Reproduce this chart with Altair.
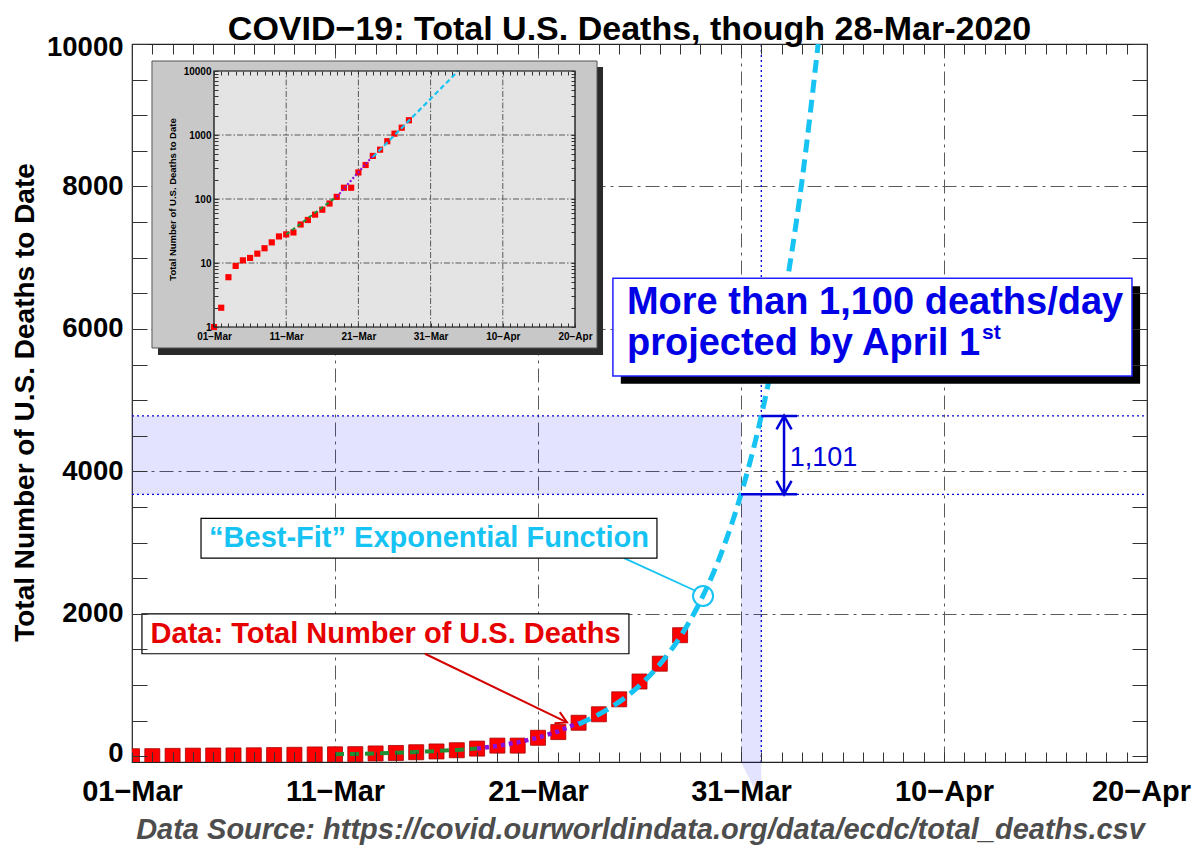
import json
import altair as alt
import pandas as pd

FONT = "Liberation Sans"

# ---------------- data ----------------
dates = ["01-Mar", "02-Mar", "03-Mar", "04-Mar", "05-Mar", "06-Mar", "07-Mar",
         "08-Mar", "09-Mar", "10-Mar", "11-Mar", "12-Mar", "13-Mar", "14-Mar",
         "15-Mar", "16-Mar", "17-Mar", "18-Mar", "19-Mar", "20-Mar", "21-Mar",
         "22-Mar", "23-Mar", "24-Mar", "25-Mar", "26-Mar", "27-Mar", "28-Mar"]
deaths = [1, 2, 6, 9, 11, 12, 14, 17, 21, 26, 28, 30, 40, 47,
          57, 68, 85, 108, 150, 150, 260, 340, 471, 590, 800, 1050, 1300, 1700]

# fitted curves (x = days since 01-Mar)
green_days = [10, 11, 12, 13, 14, 15, 16, 17]
green_vals = [28, 34, 41, 50, 61, 74, 90, 108]
purple_days = [17, 18, 19, 20, 21, 22]
purple_vals = [108, 145, 195, 262, 351, 471]
cyan_days = [22, 23, 24, 25, 26, 27, 28, 29, 30, 31, 32, 33, 33.8]
cyan_vals = [452, 588, 764, 992, 1290, 1676, 2178, 2830, 3678, 4779, 6210, 8069, 10000]

proj_days = [30, 31]          # 31-Mar, 01-Apr
proj_vals = [3678, 4779]      # projected totals on the fit
proj_label = "1,101"

tick_days = [0, 10, 20, 30, 40, 50]
tick_labels = ["01−Mar", "11−Mar", "21−Mar", "31−Mar", "10−Apr", "20−Apr"]
y_ticks = [0, 2000, 4000, 6000, 8000, 10000]
y_grid = [2000, 4000, 6000, 8000]
x_grid = [10, 20, 30, 40]
minor_days = list(range(0, 51))
y_minor = list(range(0, 10001, 500))
inset_y_ticks = [1, 10, 100, 1000, 10000]
inset_y_grid = [10, 100, 1000]
inset_minor = [m * 10 ** e for e in range(4) for m in range(1, 10)] + [10000]

title_text = "COVID−19: Total U.S. Deaths, though 28-Mar-2020"
y_title = "Total Number of U.S. Deaths to Date"
source_text = "Data Source: https://covid.ourworldindata.org/data/ecdc/total_deaths.csv"
box_line1 = "More than 1,100 deaths/day"
box_line2 = "projected by April 1"
box_sup = "st"
fit_label = "“Best-Fit” Exponential Function"
data_label = "Data: Total Number of U.S. Deaths"

# ---------------- styling ----------------
RED = "#ff0000"
CYAN = "#16c3f2"
GREEN = "#1f8f35"
PURPLE = "#8a0fdc"
BLUE = "#0000d8"
GRID = "#5a5a5a"
W, H = 1015, 718

days = list(range(len(dates)))
lab_expr = (f"{json.dumps(tick_labels, ensure_ascii=False)}"
            f"[indexof({json.dumps(tick_days)}, datum.value)]")


def df(**cols):
    return pd.DataFrame(cols)


def tick_axis(orient, values, size, offset, **kw):
    return alt.Axis(orient=orient, values=values, offset=offset, tickSize=size,
                    tickColor="#333", tickWidth=1, ticks=True, labels=False,
                    domain=False, grid=False, zindex=1, **kw)


# ---------------- main chart ----------------
XS = alt.Scale(domain=[0, 50], nice=False, zero=False)
YS = alt.Scale(domain=[-80, 10000], nice=False, zero=False)


def xm(f="x", axis=None):
    return alt.X(f"{f}:Q", scale=XS, axis=axis)


def ym(f="y", axis=None):
    return alt.Y(f"{f}:Q", scale=YS, axis=axis)


ax_x_labels = alt.Axis(
    orient="bottom", values=tick_days, labelExpr=lab_expr, labelFont=FONT,
    labelFontSize=29, labelFontWeight="bold", labelColor="#000", labelPadding=15,
    labelOffset={"condition": {"test": "datum.value == 50", "value": -6}, "value": 0},
    labelFlush=False, labelOverlap=False, labelBound=False, ticks=False, tickSize=0,
    domain=False, grid=False, zindex=1,
    title=source_text, titleFont=FONT, titleFontSize=29, titleFontWeight="bold",
    titleFontStyle="italic", titleColor="#4d4d4d", titleX=508, titleY=76,
    titleAlign="center", titleBaseline="alphabetic")
ax_y_labels = alt.Axis(
    orient="left", values=y_ticks, format="d", labelFont=FONT, labelFontSize=27.5,
    labelFontWeight="bold", labelColor="#000", labelPadding=9, labelFlush=False,
    labelOffset={"condition": [{"test": "datum.value == 10000", "value": 3},
                               {"test": "datum.value == 0", "value": -3}], "value": 0},
    labelOverlap=False, ticks=False, tickSize=0, domain=False, grid=False, zindex=1,
    title=y_title, titleFont=FONT, titleFontSize=28, titleFontWeight="bold",
    titleColor="#000", titleAngle=270, titleX=-99, titleY=358,
    titleAlign="center", titleBaseline="alphabetic")
ax_x_grid = alt.Axis(orient="bottom", values=x_grid, grid=True, gridColor=GRID,
                     gridDash=[14, 5, 3, 5], gridWidth=1, labels=False, ticks=False,
                     domain=False, title=None, zindex=0)
ax_y_grid = alt.Axis(orient="left", values=y_grid, grid=True, gridColor=GRID,
                     gridDash=[14, 5, 3, 5], gridWidth=1, labels=False, ticks=False,
                     domain=False, title=None, zindex=0)
# top tick axis also carries the chart's main title
ax_x_top = tick_axis("top", minor_days, 10, -10,
                     title=title_text, titleFont=FONT, titleFontSize=34,
                     titleFontWeight="bold", titleColor="#000", titleX=497,
                     titleY=-15, titleAlign="center", titleBaseline="alphabetic")

lo, hi = proj_vals

band_h = alt.Chart(df(x=[0], x2=[proj_days[0]], y=[lo], y2=[hi])).mark_rect(
    color="#0000ff", opacity=0.11).encode(
    x=xm("x", ax_x_grid), x2=alt.X2("x2"), y=ym("y", ax_y_grid), y2=alt.Y2("y2"))
band_v = alt.Chart(df(x=[proj_days[0]], x2=[proj_days[1]], y=[-80], y2=[lo])).mark_rect(
    color="#0000ff", opacity=0.11).encode(
    x=xm(), x2=alt.X2("x2"), y=ym(), y2=alt.Y2("y2"))
band_tip = alt.Chart(df(x=proj_days, y=[-80, -80], y2=[-80, -650])).mark_area(
    color="#0000ff", opacity=0.11).encode(x=xm(), y=ym(), y2=alt.Y2("y2"))

dot_h = alt.Chart(df(x=[0, 0], x2=[50, 50], y=proj_vals)).mark_rule(
    color=BLUE, strokeDash=[2, 3], strokeWidth=1.3).encode(
    x=xm("x", tick_axis("bottom", minor_days, 10, -10, title=None)), x2=alt.X2("x2"),
    y=ym("y", tick_axis("left", y_minor, 15, -15, title=None)))
dot_v = alt.Chart(df(x=[proj_days[1]], y=[-80], y2=[10000])).mark_rule(
    color=BLUE, strokeDash=[2, 3], strokeWidth=1.3).encode(
    x=xm("x", ax_x_top),
    y=ym("y", tick_axis("right", y_minor, 15, -15, title=None)), y2=alt.Y2("y2"))

squares = alt.Chart(df(x=days, y=deaths, date=dates)).mark_square(
    size=225, filled=True, fill=RED, stroke="#a80000", strokeWidth=0.8, opacity=1,
    clip=True).encode(x=xm("x", ax_x_labels), y=ym("y", ax_y_labels))

green = alt.Chart(df(x=green_days, y=green_vals)).mark_line(
    color=GREEN, strokeWidth=4, strokeDash=[9, 6]).encode(x=xm(), y=ym())
purple = alt.Chart(df(x=purple_days, y=purple_vals)).mark_line(
    color=PURPLE, strokeWidth=4.5, strokeDash=[4, 4]).encode(x=xm(), y=ym())
cyan = alt.Chart(df(x=cyan_days, y=cyan_vals)).mark_line(
    color=CYAN, strokeWidth=5, strokeDash=[13, 7], interpolate="monotone").encode(
    x=xm(), y=ym())

# 1,101 measure
arr_line = alt.Chart(df(x=[32.12], y=[lo], y2=[hi])).mark_rule(
    color=BLUE, strokeWidth=2.5).encode(x=xm(), y=ym(), y2=alt.Y2("y2"))
arr_bars = alt.Chart(df(x=[proj_days[1], proj_days[0]], x2=[32.76, 32.76], y=[hi, lo])).mark_rule(
    color=BLUE, strokeWidth=2.5).encode(x=xm(), x2=alt.X2("x2"), y=ym())
arr_up = alt.Chart(df(x=[32.12], y=[hi])).mark_point(
    shape="M-1,1.8L0,0L1,1.8", filled=False, size=225, color=BLUE, strokeWidth=2.5,
    opacity=1).encode(x=xm(), y=ym())
arr_dn = alt.Chart(df(x=[32.12], y=[lo])).mark_point(
    shape="M-1,-1.8L0,0L1,-1.8", filled=False, size=225, color=BLUE, strokeWidth=2.5,
    opacity=1).encode(x=xm(), y=ym())
arr_txt = alt.Chart(df(x=[32.4], y=[4194], t=[proj_label])).mark_text(
    font=FONT, fontSize=27, color=BLUE, align="left", baseline="middle").encode(
    x=xm(), y=ym(), text="t:N")

# "Data" annotation
data_box = alt.Chart(df(x=[0.49], x2=[24.48], y=[1440], y2=[1999])).mark_rect(
    fill="white", stroke="#000", strokeWidth=1.2).encode(
    x=xm(), x2=alt.X2("x2"), y=ym(), y2=alt.Y2("y2"))
data_txt = alt.Chart(df(x=[12.49], y=[1720], t=[data_label])).mark_text(
    font=FONT, fontSize=29, fontWeight="bold", color="#e60000", align="center",
    baseline="middle").encode(x=xm(), y=ym(), text="t:N")
data_arrow = alt.Chart(df(x=[14.43], x2=[21.43], y=[1440], y2=[475])).mark_rule(
    color="#d40000", strokeWidth=2).encode(x=xm(), x2=alt.X2("x2"), y=ym(), y2=alt.Y2("y2"))
data_head = alt.Chart(df(x=[21.43], y=[475])).mark_point(
    shape="M-1.8,-1L0,0L-1.8,1", angle=25.9, filled=False, size=150, color="#d40000",
    strokeWidth=2, opacity=1).encode(x=xm(), y=ym())

# "Best-Fit" annotation
fit_link = alt.Chart(df(x=[24.24], x2=[27.78], y=[2782], y2=[2321])).mark_rule(
    color=CYAN, strokeWidth=1.8).encode(x=xm(), x2=alt.X2("x2"), y=ym(), y2=alt.Y2("y2"))
fit_circle = alt.Chart(df(x=[28.13], y=[2251])).mark_point(
    shape="circle", filled=False, size=400, color=CYAN, strokeWidth=2, opacity=1).encode(
    x=xm(), y=ym())
fit_box = alt.Chart(df(x=[3.40], x2=[25.86], y=[2782], y2=[3341])).mark_rect(
    fill="white", stroke="#000", strokeWidth=1.2).encode(
    x=xm(), x2=alt.X2("x2"), y=ym(), y2=alt.Y2("y2"))
fit_txt = alt.Chart(df(x=[14.63], y=[3062], t=[fit_label])).mark_text(
    font=FONT, fontSize=29, fontWeight="bold", color=CYAN, align="center",
    baseline="middle").encode(x=xm(), y=ym(), text="t:N")

# projection box
proj_shadow = alt.Chart(df(x=[24.08], x2=[49.66], y=[5229], y2=[6599])).mark_rect(
    fill="#000").encode(x=xm(), x2=alt.X2("x2"), y=ym(), y2=alt.Y2("y2"))
proj_box = alt.Chart(df(x=[23.69], x2=[49.26], y=[5340], y2=[6711])).mark_rect(
    fill="white", stroke="#2020ff", strokeWidth=1.5).encode(
    x=xm(), x2=alt.X2("x2"), y=ym(), y2=alt.Y2("y2"))
proj_txt = alt.Chart(df(x=[24.38, 24.38], y=[6215, 5635], t=[box_line1, box_line2])).mark_text(
    font=FONT, fontSize=38, fontWeight="bold", color="#0000e6", align="left",
    baseline="alphabetic").encode(x=xm(), y=ym(), text="t:N")
proj_sup = alt.Chart(df(x=[41.87], y=[5858], t=[box_sup])).mark_text(
    font=FONT, fontSize=21, fontWeight="bold", color="#0000e6", align="left",
    baseline="alphabetic").encode(x=xm(), y=ym(), text="t:N")

main = alt.layer(
    band_h, band_v, band_tip, dot_h, dot_v, squares, green, purple, cyan,
    arr_line, arr_bars, arr_up, arr_dn, arr_txt,
    data_box, data_txt, data_arrow, data_head,
    fit_link, fit_circle, fit_box, fit_txt,
    proj_shadow, proj_box, proj_txt, proj_sup,
).resolve_axis(x="independent", y="independent")

# ---------------- inset (log scale) ----------------
XI = alt.Scale(domain=[0, 50], range=[82, 443], nice=False, zero=False)
YI = alt.Scale(type="log", domain=[1, 10000], range=[283, 27], nice=False)


def xi(f="x", axis=None):
    return alt.X(f"{f}:Q", scale=XI, axis=axis)


def yi(f="y", axis=None):
    return alt.Y(f"{f}:Q", scale=YI, axis=axis)


ax_xi_labels = alt.Axis(
    orient="bottom", offset=-435, values=tick_days, labelExpr=lab_expr, labelFont=FONT,
    labelFontSize=10, labelFontWeight="bold", labelColor="#000", labelPadding=4,
    labelFlush=False, labelOverlap=False, labelBound=False, ticks=False, tickSize=0,
    domain=False, grid=False, title=None, zindex=1)
ax_yi_labels = alt.Axis(
    orient="left", offset=-82, values=inset_y_ticks, format="d", labelFont=FONT,
    labelFontSize=10, labelFontWeight="bold", labelColor="#000", labelPadding=3,
    labelOverlap=False, ticks=False, tickSize=0, domain=False, grid=False, zindex=1,
    title=y_title, titleFont=FONT, titleFontSize=9.5, titleFontWeight="bold",
    titleColor="#000", titleAngle=270, titleX=-42, titleY=155, titleAlign="center",
    titleBaseline="middle")

in_shadow = alt.Chart(df(x=[-7.76], x2=[53.88], y=[0.365], y2=[11550])).mark_rect(
    fill="#2a2a2a").encode(x=xi(), x2=alt.X2("x2"), y=yi(), y2=alt.Y2("y2"))
in_frame = alt.Chart(df(x=[-8.59], x2=[53.05], y=[0.47], y2=[14330])).mark_rect(
    fill="#c8c8c8", stroke="#555", strokeWidth=1).encode(
    x=xi(), x2=alt.X2("x2"), y=yi(), y2=alt.Y2("y2"))
in_bg = alt.Chart(df(x=[0], x2=[50], y=[1], y2=[10000])).mark_rect(
    fill="#e4e4e4").encode(x=xi(), x2=alt.X2("x2"), y=yi(), y2=alt.Y2("y2"))
in_vgrid = alt.Chart(df(x=x_grid, y=[1] * len(x_grid), y2=[10000] * len(x_grid))).mark_rule(
    color=GRID, strokeDash=[6, 2, 1.5, 2], strokeWidth=1).encode(
    x=xi("x", tick_axis("bottom", minor_days, 4, -439, title=None)),
    y=yi("y", tick_axis("left", inset_minor, 4, -86, title=None)), y2=alt.Y2("y2"))
in_hgrid = alt.Chart(df(x=[0] * 3, x2=[50] * 3, y=inset_y_grid)).mark_rule(
    color=GRID, strokeDash=[6, 2, 1.5, 2], strokeWidth=1).encode(
    x=xi("x", tick_axis("top", minor_days, 4, -31, title=None)), x2=alt.X2("x2"),
    y=yi("y", tick_axis("right", inset_minor, 4, -576, title=None)))
in_squares = alt.Chart(df(x=days, y=deaths, date=dates)).mark_square(
    size=38, filled=True, fill=RED, opacity=1).encode(
    x=xi("x", ax_xi_labels), y=yi("y", ax_yi_labels))
in_green = alt.Chart(df(x=green_days, y=green_vals)).mark_line(
    color=GREEN, strokeWidth=2, strokeDash=[4, 3]).encode(x=xi(), y=yi())
in_purple = alt.Chart(df(x=purple_days, y=purple_vals)).mark_line(
    color=PURPLE, strokeWidth=2.2, strokeDash=[2, 2]).encode(x=xi(), y=yi())
in_cyan = alt.Chart(df(x=cyan_days, y=cyan_vals)).mark_line(
    color=CYAN, strokeWidth=2.2, strokeDash=[5, 3]).encode(x=xi(), y=yi())
in_border = alt.Chart(df(x=[0], x2=[50], y=[1], y2=[10000])).mark_rect(
    fillOpacity=0, stroke="#000", strokeWidth=1.2).encode(
    x=xi(), x2=alt.X2("x2"), y=yi(), y2=alt.Y2("y2"))

inset = alt.layer(
    in_shadow, in_frame, in_bg, in_vgrid, in_hgrid, in_squares,
    in_green, in_purple, in_cyan, in_border,
).resolve_axis(x="independent", y="independent")

chart = alt.layer(main, inset).resolve_scale(
    x="independent", y="independent"
).resolve_axis(
    x="independent", y="independent"
).properties(
    width=W, height=H,
    padding={"left": 124, "top": 36, "right": 45, "bottom": 84},
    autosize=alt.AutoSizeParams(type="none"),
    background="white",
).configure_view(stroke="#222", strokeWidth=1.2)

chart.save("out.html", embed_options={"renderer": "svg", "actions": False})
